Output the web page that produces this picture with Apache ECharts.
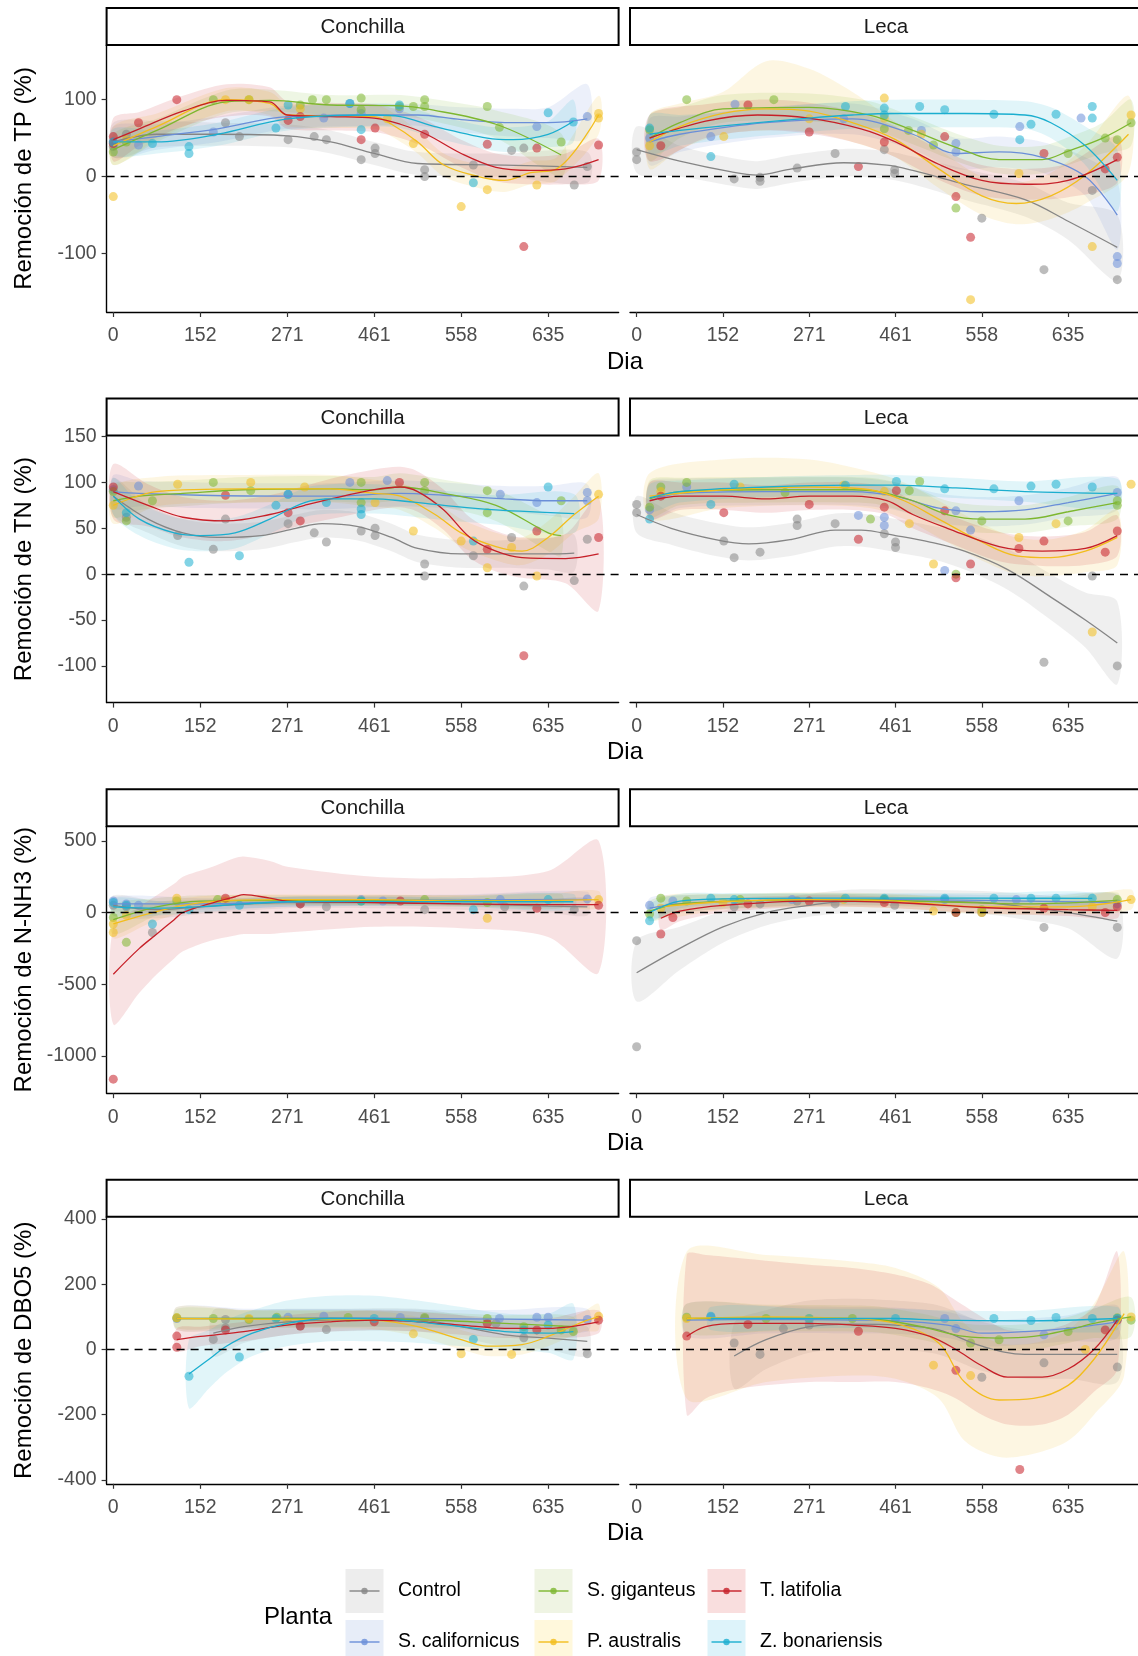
<!DOCTYPE html>
<html>
<head>
<meta charset="utf-8">
<title>Remoción por planta y lecho</title>
<script src="https://cdn.jsdelivr.net/npm/echarts@6/dist/echarts.min.js"></script>
<style>
  html, body { margin: 0; padding: 0; background: #fff; }
  #chart { width: 1138px; height: 1656px; }
</style>
</head>
<body>
<div id="chart"></div>
<script>
const plantas = ['Control', 'S. californicus', 'S. giganteus', 'P. australis', 'T. latifolia', 'Z. bonariensis'];
const colores = ['#858585', '#6A8ED8', '#7DB72F', '#F2BD1C', '#C61F28', '#1BAECF'];
const fondos = ['#EDEDED', '#E7EDF8', '#EFF4E3', '#FFF8DC', '#F9DEDE', '#DDF3FA'];
const lechos = ['Conchilla', 'Leca'];

// posiciones de muestreo (x) y sus etiquetas de dia
const tickPos = [0, 10, 20, 30, 40, 50];
const tickLabels = ['0', '152', '271', '461', '558', '635'];

// ---- TP ----
const tpTicks = [-100, 0, 100];
const tpConchillaPts = [
  [[0,39],[1.5,55],[12.9,70],[14.5,52],[20.1,48],[23.1,52],[24.5,48],[28.5,22],[30.1,37],[30.1,30],[35.8,9],[35.8,0],[41.4,15],[45.8,34],[47.2,37],[53,-11],[54.5,13]],
  [[0,45],[2.9,41],[11.5,58],[24.2,76],[27.2,95],[28.5,82],[32.9,88],[48.7,65],[54.5,78]],
  [[0,32],[1.5,45],[11.5,100],[15.6,100],[21.5,93],[22.9,100],[24.5,100],[28.5,102],[28.5,87],[32.9,91],[34.5,91],[35.8,100],[35.8,91],[43,91],[44.4,64],[51.5,45]],
  [[0,-26],[1.5,48],[12.9,100],[15.6,100],[21.5,88],[31.5,75],[34.5,43],[40,-39],[43,-17],[48.7,-11],[55.8,82],[55.8,76]],
  [[0,43],[0,52],[2.9,70],[7.3,100],[20.1,73],[21.5,78],[28.5,48],[30.1,63],[35.8,55],[43,42],[47.2,-91],[48.7,37],[55.8,41]],
  [[0,45],[4.5,43],[8.7,39],[8.7,30],[18.7,63],[20.1,93],[27.2,95],[28.5,61],[32.9,93],[41.4,-8],[50,83],[52.9,71]]
];
const tpConchillaFit = [
  [[0,45,25,70],[5,55,38,72],[12,55,40,70],[20,53,38,68],[25,45,30,60],[30,30,15,45],[35,17,2,32],[45,15,0,30],[54.5,12,-8,32]],
  [[0,45,25,65],[5,52,35,68],[12,62,45,78],[20,78,62,92],[30,80,66,94],[35,80,66,94],[40,74,58,90],[46,70,52,88],[50,70,50,90],[54.5,75,50,120]],
  [[0,35,15,55],[5,60,45,75],[13,97,82,112],[18,99,85,113],[25,93,80,106],[33,92,78,106],[36,88,74,102],[44,68,50,86],[51.5,28,0,56]],
  [[0,40,15,65],[5,65,48,82],[13,100,85,115],[18,95,80,110],[20,80,65,95],[30,78,62,94],[32,68,52,84],[35,45,30,60],[38,15,0,30],[42,0,-15,15],[45,-5,-20,10],[48,5,-10,20],[51,10,-5,25],[55.8,80,55,105]],
  [[0,48,20,76],[3,62,40,84],[8,85,65,105],[13,99,78,120],[18,97,78,116],[20,80,62,98],[25,78,60,96],[30,76,58,94],[33,68,50,86],[36,55,37,73],[40,30,12,48],[44,12,-6,30],[48,8,-10,26],[52,10,-10,30],[55.8,22,-5,49]],
  [[0,45,28,62],[5,45,30,60],[12,55,40,70],[20,75,60,90],[30,80,65,95],[33,78,63,93],[37,65,50,80],[43,50,35,65],[46,48,32,64],[50,55,38,72],[52.9,72,45,100]]
];
const tpLecaPts = [
  [[0,32],[0,22],[11.3,-3],[14.3,-6],[14.3,-1],[18.6,11],[23,30],[28.7,35],[29.9,9],[29.9,4],[40,-54],[47.2,-121],[52.8,-18],[55.7,-134]],
  [[1.5,50],[8.6,52],[11.4,94],[24,75],[33,60],[37,43],[37,32],[44.4,65],[51.5,76],[55.7,-104],[55.7,-113]],
  [[1.5,61],[5.8,100],[15.9,100],[28.7,62],[31.5,60],[34.4,41],[37,-41],[50,30],[54.3,50],[55.7,48],[57.3,70]],
  [[1.5,40],[10.1,52],[20,75],[28.7,102],[28.7,76],[33,55],[38.7,-160],[44.3,4],[52.8,-91],[57.3,80]],
  [[2.8,40],[12.9,93],[20,58],[25.7,13],[28.7,45],[35.7,52],[37,-26],[38.7,-79],[47.2,30],[54.3,10],[55.7,25]],
  [[1.5,63],[8.6,26],[24.2,91],[28.7,89],[28.7,80],[32.8,91],[35.7,87],[41.4,81],[44.4,48],[45.7,68],[48.6,81],[52.8,91],[52.8,76]]
];
const tpLecaFit = [
  [[0,35,5,65],[5,20,0,40],[11,6,-12,24],[14,2,-16,20],[18,10,-8,28],[24,18,0,36],[29,15,-3,33],[32,8,-10,26],[38,-10,-30,10],[45,-30,-52,-8],[50,-58,-82,-34],[55.7,-92,-135,-50]],
  [[1.5,45,15,75],[5,55,32,78],[15,70,50,90],[25,75,55,95],[32,55,35,75],[37,30,10,50],[42,32,12,52],[47,25,5,45],[52,0,-25,25],[55.7,-50,-95,-5]],
  [[1.5,50,20,80],[5,70,50,90],[10,88,70,106],[20,90,72,108],[27,80,62,98],[32,60,42,78],[37,38,20,56],[42,22,4,40],[47,22,4,40],[50,33,15,51],[54,50,30,70],[57.3,70,40,100]],
  [[1.5,45,10,80],[5,65,35,95],[10,82,55,110],[15,88,60,150],[20,85,58,140],[25,70,45,110],[30,48,25,71],[35,10,-15,35],[40,-25,-50,0],[44,-35,-62,-8],[48,-25,-55,5],[52,2,-35,40],[57,55,5,105]],
  [[1.5,50,20,80],[8,72,50,94],[14,80,60,100],[20,76,56,96],[26,62,42,82],[30,45,25,65],[35,16,-4,36],[40,-5,-25,15],[45,-10,-30,10],[50,-5,-27,17],[55.7,22,-8,52]],
  [[1.5,55,30,80],[5,60,40,80],[10,66,48,84],[20,76,58,94],[25,80,62,98],[30,82,64,100],[38,82,64,100],[45,80,62,98],[48,70,50,90],[52,40,15,65],[55.7,-5,-45,35]]
];

// ---- TN ----
const tnTicks = [-100, -50, 0, 50, 100, 150];
const tnConchillaPts = [
  [[1.5,62],[7.4,42],[11.5,27],[12.9,60],[20.1,55],[23.1,45],[24.5,35],[28.5,47],[30.1,42],[30.1,50],[35.8,11],[35.8,-2],[41.4,20],[45.8,40],[47.2,-13],[53,-7],[54.5,38]],
  [[0,92],[2.9,96],[20.1,87],[27.2,100],[31.5,102],[44.5,87],[48.7,78],[54.5,89],[54.5,80]],
  [[0,90],[1.5,58],[4.5,80],[11.5,100],[15.8,91],[28.5,100],[28.5,78],[35.8,100],[35.8,91],[43,91],[43,67],[51.5,80]],
  [[0,75],[7.4,98],[15.8,100],[22,95],[30.1,78],[34.5,47],[40,36],[43,7],[45.8,29],[48.7,-2],[55.8,87]],
  [[0,95],[12.9,86],[20.1,67],[21.5,58],[32.9,100],[43,27],[47.2,-89],[48.7,47],[55.8,40]],
  [[1.5,67],[8.7,13],[14.5,20],[18.7,75],[20.1,87],[24.5,78],[28.5,71],[28.5,65],[41.4,36],[50,95]]
];
const tnConchillaFit = [
  [[0,85,65,105],[4,60,45,75],[8,45,30,60],[12,40,25,55],[17,42,27,57],[21,50,35,65],[24,55,40,70],[28,52,37,67],[32,40,25,55],[35,28,13,43],[40,22,7,37],[45,22,7,37],[50,22,5,39],[53,23,3,43]],
  [[0,90,72,108],[3,88,74,102],[10,86,72,100],[20,85,71,99],[25,85,71,99],[33,88,74,102],[38,86,72,100],[45,82,68,96],[50,80,64,96],[54.5,80,62,98]],
  [[0,80,62,98],[3,85,70,100],[8,88,74,102],[15,92,78,106],[25,93,79,107],[30,92,78,106],[33,95,80,110],[38,88,73,103],[44,75,58,92],[50,45,25,65],[51.5,42,20,64]],
  [[0,75,55,95],[5,90,74,106],[15,93,78,108],[25,93,78,108],[30,88,73,103],[33,85,70,100],[37,65,50,80],[40,45,30,60],[44,30,15,45],[47,25,10,40],[50,40,22,58],[53,65,45,85],[55.8,85,60,110]],
  [[0,90,60,120],[4,75,52,98],[8,62,40,84],[13,58,36,80],[18,65,44,86],[22,75,54,96],[25,82,60,104],[30,92,70,114],[33,95,73,117],[35,90,68,112],[38,70,48,92],[41,40,18,62],[44,25,3,47],[47,18,-4,40],[52,17,-10,44],[55.8,22,-40,84]],
  [[0,85,65,105],[3,60,42,78],[7,45,28,62],[10,42,25,59],[14,45,28,62],[18,60,44,76],[22,78,62,94],[25,82,66,98],[30,82,66,98],[33,80,64,96],[38,75,59,91],[44,70,54,86],[53,66,45,87]]
];
const tnLecaPts = [
  [[0,76],[0,67],[10.1,36],[11.3,18],[14.3,24],[18.6,60],[18.6,53],[23,55],[28.7,44],[30,29],[30,35],[47.2,-96],[52.8,-2],[55.7,-100]],
  [[1.5,70],[5.8,95],[25.7,64],[28.7,62],[28.7,53],[35.7,4],[37,69],[38.7,48],[44.3,80],[55.7,89]],
  [[1.5,73],[2.8,95],[5.8,100],[17.2,89],[27.1,60],[31.6,91],[32.8,101],[37,0],[40,58],[50,58],[55.7,75],[55.7,80]],
  [[2.8,90],[12,95],[24,97],[28.7,90],[31.6,55],[34.4,11],[44.3,40],[48.6,55],[52.8,-63],[57.3,98]],
  [[2.8,85],[10.1,67],[20,76],[25.7,38],[28.7,73],[30.1,91],[35.7,69],[37,-4],[38.7,11],[44.3,28],[47.2,36],[54.3,24],[55.7,47]],
  [[1.5,60],[8.6,76],[11.3,98],[24.2,97],[30.1,101],[35.7,93],[41.4,93],[45.7,96],[48.6,98],[52.8,95]]
];
const tnLecaFit = [
  [[0,65,45,85],[4,50,32,68],[9,38,20,56],[13,33,15,51],[18,38,20,56],[23,48,30,66],[26,48,30,66],[30,42,24,60],[34,35,17,53],[38,25,5,45],[43,5,-17,27],[48,-25,-50,0],[52,-50,-80,-20],[55.7,-75,-120,-30]],
  [[1.5,80,60,100],[5,88,72,104],[15,90,75,105],[25,90,75,105],[30,85,70,100],[35,72,56,88],[40,68,52,84],[45,70,54,86],[50,78,62,94],[55.7,88,70,106]],
  [[1.5,82,62,102],[5,90,75,105],[15,92,78,106],[25,92,78,106],[28,90,76,104],[32,80,65,95],[36,65,50,80],[40,60,45,75],[45,60,45,75],[50,68,52,84],[55.7,78,60,96]],
  [[1.5,85,60,110],[10,92,72,125],[20,95,75,125],[27,92,72,112],[31,80,60,100],[35,60,40,80],[40,35,15,55],[44,20,0,40],[48,18,-2,38],[52,25,2,48],[55.7,40,10,70]],
  [[1.5,80,60,100],[5,85,70,100],[10,85,70,100],[15,82,67,97],[20,85,70,100],[25,85,70,100],[29,80,65,95],[32,65,50,80],[36,50,35,65],[42,30,14,46],[47,25,9,41],[52,28,10,46],[55.7,42,20,64]],
  [[1.5,83,68,98],[5,90,78,102],[15,95,84,106],[25,97,86,108],[30,97,86,108],[37,94,83,105],[45,90,79,101],[55.7,88,72,104]]
];

// ---- N-NH3 ----
const nhTicks = [-1000, -500, 0, 500];
const nhConchillaPts = [
  [[0,50],[1.5,40],[4.5,-139],[21.5,60],[24.5,40],[35.8,20],[45,40],[53,20]],
  [[0,80],[1.5,60],[2.9,50],[28.5,90],[31,80],[44.5,90],[54.5,95]],
  [[0,-35],[1.5,-208],[7.3,80],[12,90],[28.5,80],[35.8,90],[43,70]],
  [[0,-139],[0,-80],[1.5,-20],[7.3,100],[12.9,80],[43,-40],[55.8,90]],
  [[0,-1162],[12.9,100],[21.5,60],[33,80],[48.7,30],[55.8,50]],
  [[0,70],[1.5,50],[4.5,-80],[8.7,20],[14.5,50],[28.5,80],[41.4,20],[50,90]]
];
const nhConchillaFit = [
  [[0,50,-20,120],[5,20,-40,80],[10,40,-10,90],[20,70,30,110],[30,70,30,110],[40,60,20,100],[50,45,0,90],[54.5,40,-20,100]],
  [[0,60,10,110],[10,60,20,100],[20,75,40,110],[30,85,50,120],[40,88,50,125],[54.5,92,40,145]],
  [[0,-50,-150,50],[5,40,-20,100],[10,80,40,120],[20,85,50,120],[30,85,50,120],[40,82,45,120],[51.5,80,30,130]],
  [[0,-80,-180,20],[4,-10,-80,60],[8,50,0,100],[12,80,40,120],[20,90,55,125],[30,90,55,125],[40,80,40,120],[50,85,40,130],[55.8,90,30,150]],
  [[0,-430,-780,-100],[3,-250,-560,40],[5,-150,-430,120],[7,-50,-320,200],[8,0,-270,250],[11,60,-200,310],[14,110,-160,380],[15,125,-150,390],[18,100,-150,360],[20,80,-140,320],[30,70,-100,250],[40,60,-110,240],[50,55,-170,290],[55.8,55,-420,500]],
  [[0,40,-20,100],[5,30,-20,80],[10,40,0,80],[15,60,25,95],[20,75,40,110],[30,78,45,110],[40,75,40,110],[52.9,75,20,130]]
];
const nhLecaPts = [
  [[0,-196],[0,-936],[11.3,40],[14.3,60],[18.6,80],[23,60],[29.9,50],[40,0],[47.2,-104],[55.7,-104]],
  [[1.5,50],[4.2,80],[18,90],[28.7,90],[35.7,90],[44,90],[55.7,60]],
  [[1.5,-10],[2.8,100],[5.8,80],[12,90],[28.7,90],[37,0],[40,20],[55.7,90]],
  [[2.8,30],[10,70],[24,90],[34.4,10],[40,0],[52.8,40],[57.3,90]],
  [[2.8,-150],[4.2,-35],[12.9,60],[20,80],[28.7,70],[37,0],[47.2,30],[54.3,0],[55.7,40]],
  [[1.5,-58],[8.6,100],[11.3,90],[24.2,100],[28.7,100],[35.7,100],[41.4,100],[45.7,100],[48.6,100],[52.8,100]]
];
const nhLecaFit = [
  [[0,-420,-620,-200],[5,-250,-400,-100],[10,-100,-210,10],[15,0,-90,90],[20,50,-30,130],[25,80,0,160],[30,80,0,160],[40,70,-10,150],[45,40,-50,130],[50,0,-110,110],[55.7,-60,-320,120]],
  [[1.5,30,-40,100],[5,60,0,120],[15,85,40,130],[25,90,50,130],[35,88,50,126],[45,80,40,120],[55.7,70,10,130]],
  [[1.5,10,-60,80],[5,60,0,120],[15,85,40,130],[25,90,50,130],[35,75,35,115],[45,60,20,100],[55.7,85,30,140]],
  [[2.8,40,-30,110],[10,75,20,130],[20,90,40,140],[30,80,30,130],[40,40,-10,90],[50,40,-10,90],[57.3,90,20,160]],
  [[2.8,-40,-120,40],[5,10,-60,80],[10,50,0,100],[20,80,40,120],[30,70,30,110],[40,35,-5,75],[50,20,-25,65],[55.7,15,-40,70]],
  [[1.5,0,-60,60],[5,80,30,130],[10,95,55,135],[20,100,65,135],[30,100,65,135],[40,100,65,135],[52.8,98,55,140]]
];

// ---- DBO5 ----
const dboTicks = [-400, -200, 0, 200, 400];
const dboConchillaPts = [
  [[11.5,31],[12.9,92],[12.9,66],[21.5,72],[24.5,61],[35.8,95],[44,80],[47.2,36],[54.5,-13]],
  [[7.3,95],[20.1,99],[24.2,102],[33,98],[44.4,95],[48.7,99],[50,99],[54.5,92]],
  [[7.3,97],[11.5,95],[15.6,92],[18.8,99],[27,98],[35.8,98],[43,95],[47.2,70],[51.5,60],[52.9,55]],
  [[7.3,97],[15.6,95],[20,90],[34.5,48],[40,-13],[45.8,-15],[55.8,102]],
  [[7.3,41],[7.3,7],[12.9,60],[21.5,72],[30,85],[43,80],[48.7,60],[55.8,90]],
  [[8.7,-82],[14.5,-23],[18.7,95],[30,95],[41.4,31],[47.2,60],[50,75]]
];
const dboConchillaFit = [
  [[11.5,50,-20,120],[15,70,20,120],[20,85,45,125],[25,90,55,125],[35,90,55,125],[40,70,35,105],[45,45,10,80],[50,35,0,70],[54.5,25,-20,70]],
  [[7.3,95,60,130],[15,95,65,125],[25,97,70,124],[35,95,68,122],[45,93,65,121],[54.5,90,55,125]],
  [[7.3,95,65,125],[15,95,70,120],[25,95,70,120],[35,92,68,116],[45,80,55,105],[52.9,70,40,100]],
  [[7.3,95,60,130],[15,93,65,121],[25,92,65,119],[30,90,62,118],[35,70,40,100],[40,30,0,60],[43,10,-20,40],[47,15,-15,45],[50,40,10,70],[54,85,55,115],[55.8,100,60,140]],
  [[7.3,30,-5,65],[10,40,10,70],[15,55,25,85],[20,75,45,105],[25,85,55,115],[30,90,60,120],[35,85,55,115],[40,75,45,105],[45,65,35,95],[50,65,35,95],[55.8,85,50,120]],
  [[8.7,-75,-180,30],[11,-30,-120,60],[13,10,-70,90],[16,50,-20,120],[20,80,10,150],[25,95,25,165],[30,95,25,165],[35,85,20,150],[40,70,10,130],[45,55,0,110],[50,50,-10,110],[52.9,55,-30,140]]
];
const dboLecaPts = [
  [[11.3,20],[14.3,-15],[17,64],[20,75],[40,-85],[47.2,-41],[55.7,-54]],
  [[8.6,100],[20,90],[35.7,95],[37,64],[47.2,45],[55.7,95]],
  [[5.8,99],[15,95],[25,95],[38.7,20],[42,30],[50,55],[55.7,97],[57.3,90]],
  [[5.8,95],[20,95],[34.4,-48],[38.7,-80],[52,0],[57.3,100]],
  [[5.8,41],[12.9,77],[25.7,56],[37,-64],[44.4,-368],[54.3,60],[55.7,90]],
  [[8.6,102],[20,95],[30,95],[41.4,95],[45.7,89],[48.6,98],[52.8,95],[55.7,95]]
];
const dboLecaFit = [
  [[11.3,-20,-120,80],[15,30,-60,120],[20,70,-10,150],[25,78,0,156],[30,75,0,150],[35,60,-15,135],[40,10,-65,85],[45,-15,-90,60],[50,-15,-90,60],[55.7,-15,-100,70]],
  [[5.8,90,40,140],[15,92,50,134],[25,90,50,130],[30,88,48,128],[36,75,35,115],[40,50,10,90],[45,55,15,95],[50,65,25,105],[55.7,85,35,135]],
  [[5.8,95,50,140],[15,96,55,137],[25,95,55,135],[28,92,52,132],[33,70,30,110],[38,40,0,80],[42,35,-5,75],[46,40,0,80],[50,60,20,100],[53,80,35,125],[57.3,100,40,160]],
  [[5.8,95,-150,300],[15,100,-100,290],[25,95,-80,270],[30,80,-90,250],[35,20,-150,190],[38,-100,-280,80],[42,-155,-330,20],[46,-150,-320,20],[50,-110,-280,60],[53,-30,-200,140],[56.5,110,-80,300]],
  [[5.8,40,-200,290],[8,70,-150,290],[12,80,-120,280],[20,80,-100,260],[25,75,-100,250],[30,65,-100,230],[34,40,-120,200],[37,0,-150,150],[40,-50,-200,100],[43,-85,-230,60],[47,-85,-230,60],[50,-60,-200,80],[53,0,-130,130],[55.7,90,-60,300]],
  [[8.6,95,60,130],[20,95,65,125],[30,95,65,125],[35,90,60,120],[45,88,58,118],[55.7,95,60,130]]
];

const filas = [
  { titulo: 'Remoción de TP (%)', min: -176, max: 171, ticks: tpTicks, pts: [tpConchillaPts, tpLecaPts], fit: [tpConchillaFit, tpLecaFit] },
  { titulo: 'Remoción de TN (%)', min: -140, max: 151, ticks: tnTicks, pts: [tnConchillaPts, tnLecaPts], fit: [tnConchillaFit, tnLecaFit] },
  { titulo: 'Remoción de N-NH3 (%)', min: -1260, max: 602, ticks: nhTicks, pts: [nhConchillaPts, nhLecaPts], fit: [nhConchillaFit, nhLecaFit] },
  { titulo: 'Remoción de DBO5 (%)', min: -412, max: 407, ticks: dboTicks, pts: [dboConchillaPts, dboLecaPts], fit: [dboConchillaFit, dboLecaFit] }
];

const FONT = '"Liberation Sans", Arial, sans-serif';
const panelLeft = [106.6, 630];
const panelW = 512;
const panelH = 267;
const rowTop = r => 45 + 390.6 * r;

function bandRenderer(fit, color) {
  return function (params, api) {
    if (params.dataIndex !== 0) return null;
    const up = fit.map(d => api.coord([d[0], d[3]]));
    const lo = fit.slice().reverse().map(d => api.coord([d[0], d[2]]));
    const cs = params.coordSys;
    return {
      type: 'group',
      clipPath: { type: 'rect', shape: { x: cs.x, y: cs.y, width: cs.width, height: cs.height } },
      children: [{
        type: 'polygon',
        shape: { points: up.concat(lo), smooth: 0.3 },
        style: { fill: color, opacity: 0.13 }
      }]
    };
  };
}

const grid = [], xAxis = [], yAxis = [], series = [], graphic = [];

filas.forEach((fila, r) => {
  const top = rowTop(r);
  for (let p = 0; p < 2; p++) {
    const gi = r * 2 + p;
    grid.push({ left: panelLeft[p], top: top, width: panelW, height: panelH });
    xAxis.push({
      gridIndex: gi, type: 'value', min: -0.77, max: 58.1,
      axisLine: { show: true, onZero: false, lineStyle: { color: '#000', width: 1.4 } },
      axisTick: { show: true, customValues: tickPos, length: 5, lineStyle: { color: '#333', width: 1.2 } },
      axisLabel: { customValues: tickPos, formatter: v => tickLabels[tickPos.indexOf(v)], color: '#4D4D4D', fontSize: 19.5, fontFamily: FONT, margin: 14 },
      splitLine: { show: false }
    });
    if (p === 0) {
      yAxis.push({
        gridIndex: gi, type: 'value', min: fila.min, max: fila.max,
        name: fila.titulo, nameLocation: 'middle', nameGap: 70,
        nameTextStyle: { fontSize: 24, color: '#000', fontFamily: FONT },
        axisLine: { show: true, onZero: false, lineStyle: { color: '#000', width: 1.4 } },
        axisTick: { show: true, customValues: fila.ticks, length: 5, lineStyle: { color: '#333', width: 1.2 } },
        axisLabel: { customValues: fila.ticks, formatter: v => String(v), color: '#4D4D4D', fontSize: 19.5, fontFamily: FONT, margin: 10 },
        splitLine: { show: false }
      });
    } else {
      yAxis.push({ gridIndex: gi, type: 'value', min: fila.min, max: fila.max, show: false, splitLine: { show: false } });
    }

    plantas.forEach((planta, g) => {
      const fit = fila.fit[p][g];
      series.push({
        name: planta, type: 'custom', xAxisIndex: gi, yAxisIndex: gi, silent: true, z: 1,
        data: fit, renderItem: bandRenderer(fit, colores[g])
      });
      series.push({
        name: planta, type: 'scatter', xAxisIndex: gi, yAxisIndex: gi, z: 2,
        data: fila.pts[p][g], symbolSize: 9,
        itemStyle: { color: colores[g], opacity: 0.55 }
      });
      const linea = {
        name: planta, type: 'line', xAxisIndex: gi, yAxisIndex: gi, z: 3,
        data: fit.map(d => [d[0], d[1]]), smooth: 0.35, showSymbol: false,
        lineStyle: { color: colores[g], width: 1.3 }
      };
      if (g === plantas.length - 1) {
        linea.markLine = {
          silent: true, symbol: 'none', label: { show: false },
          lineStyle: { color: '#000', width: 1.3, type: [8, 6] },
          data: [{ yAxis: 0 }]
        };
      }
      series.push(linea);
    });

    // strip
    graphic.push({
      type: 'rect', x: panelLeft[p], y: top - 37,
      shape: { x: 0, y: 0, width: panelW, height: 37 },
      style: { fill: '#fff', stroke: '#000', lineWidth: 2 }
    });
    graphic.push({
      type: 'text', x: panelLeft[p] + panelW / 2, y: top - 17.5,
      style: { text: lechos[p], fill: '#1A1A1A', font: '20.5px ' + FONT, align: 'center', verticalAlign: 'middle', textAlign: 'center', textVerticalAlign: 'middle' }
    });
  }
  graphic.push({
    type: 'text', x: 625, y: top + panelH + 50,
    style: { text: 'Dia', fill: '#000', font: '24px ' + FONT, align: 'center', verticalAlign: 'middle', textAlign: 'center', textVerticalAlign: 'middle' }
  });
});

// leyenda
const keyCols = [364.5, 553.5, 726.5];
const keyRows = [1591, 1642];
graphic.push({
  type: 'text', x: 264, y: 1617,
  style: { text: 'Planta', fill: '#000', font: '24px ' + FONT, align: 'left', verticalAlign: 'middle', textAlign: 'left', textVerticalAlign: 'middle' }
});
plantas.forEach((planta, g) => {
  const cx = keyCols[Math.floor(g / 2)];
  const cy = keyRows[g % 2];
  graphic.push({ type: 'rect', x: cx - 19, y: cy - 22, shape: { x: 0, y: 0, width: 38, height: 44 }, style: { fill: fondos[g] } });
  graphic.push({ type: 'line', shape: { x1: cx - 15, y1: cy, x2: cx + 15, y2: cy }, style: { stroke: colores[g], lineWidth: 1.4 } });
  graphic.push({ type: 'circle', shape: { cx: cx, cy: cy, r: 3.2 }, style: { fill: colores[g], opacity: 0.8 } });
  graphic.push({
    type: 'text', x: cx + 33.5, y: cy,
    style: { text: planta, fill: '#000', font: '19.5px ' + FONT, align: 'left', verticalAlign: 'middle', textAlign: 'left', textVerticalAlign: 'middle' }
  });
});

const chart = echarts.init(document.getElementById('chart'), null, { renderer: 'canvas' });
chart.setOption({
  animation: false,
  backgroundColor: '#fff',
  grid: grid,
  xAxis: xAxis,
  yAxis: yAxis,
  series: series,
  graphic: graphic
});
</script>
</body>
</html>
